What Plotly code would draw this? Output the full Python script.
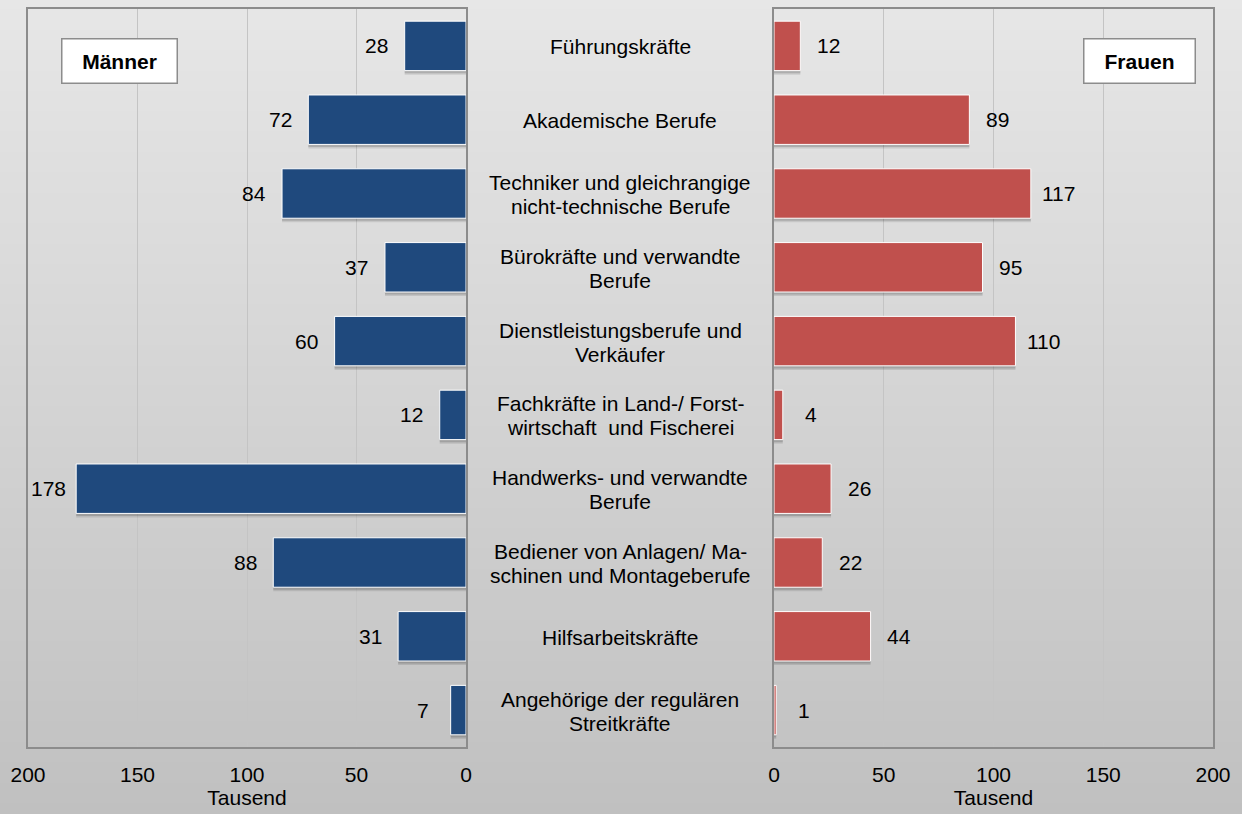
import plotly.graph_objects as go

categories = [
    "Führungskräfte",
    "Akademische Berufe",
    "Techniker und gleichrangige<br>nicht-technische Berufe",
    "Bürokräfte und verwandte<br>Berufe",
    "Dienstleistungsberufe und<br>Verkäufer",
    "Fachkräfte in Land-/ Forst-<br>wirtschaft  und Fischerei",
    "Handwerks- und verwandte<br>Berufe",
    "Bediener von Anlagen/ Ma-<br>schinen und Montageberufe",
    "Hilfsarbeitskräfte",
    "Angehörige der regulären<br>Streitkräfte",
]
maenner = [28, 72, 84, 37, 60, 12, 178, 88, 31, 7]
frauen = [12, 89, 117, 95, 110, 4, 26, 22, 44, 1]
tick_vals = [0, 50, 100, 150, 200]
axis_title = "Tausend"

W, H = 1242, 814
FONT = "Liberation Sans, Arial, sans-serif"
FS = 21
pos = list(range(len(categories)))
BW = 0.67

fig = go.Figure()
# soft drop shadows
for xs, xa, ya in ((maenner, "x", "y"), (frauen, "x2", "y2")):
    for off, alpha in ((0.055, 0.10), (0.035, 0.14)):
        fig.add_trace(go.Bar(
            y=pos, x=xs, orientation="h", xaxis=xa, yaxis=ya, width=BW,
            offset=-BW / 2 + off,
            marker=dict(color="rgba(0,0,0,%.2f)" % alpha, line=dict(width=0)),
            showlegend=False, hoverinfo="skip",
        ))
fig.add_trace(go.Bar(
    y=pos, x=maenner, orientation="h", xaxis="x", yaxis="y", width=BW, offset=-BW / 2,
    marker=dict(color="#1F497D", line=dict(color="#ffffff", width=1)),
    showlegend=False, hoverinfo="skip",
))
fig.add_trace(go.Bar(
    y=pos, x=frauen, orientation="h", xaxis="x2", yaxis="y2", width=BW, offset=-BW / 2,
    marker=dict(color="#C0504D", line=dict(color="#ffffff", width=1)),
    showlegend=False, hoverinfo="skip",
))

ann = []
for i, v in enumerate(maenner):
    ann.append(dict(x=v, y=i, xref="x", yref="y", text=str(v), showarrow=False,
                    xanchor="center", yanchor="middle", xshift=-28,
                    font=dict(size=FS, color="#000")))
for i, v in enumerate(frauen):
    ann.append(dict(x=v, y=i, xref="x2", yref="y2", text=str(v), showarrow=False,
                    xanchor="center", yanchor="middle", xshift=28,
                    font=dict(size=FS, color="#000")))
for i, c in enumerate(categories):
    lines = c.split("<br>")
    n = len(lines)
    for j, ln in enumerate(lines):
        ann.append(dict(x=620 / W, y=i, xref="paper", yref="y", text=ln, showarrow=False,
                        xanchor="center", yanchor="middle", align="center",
                        yshift=-(j - (n - 1) / 2) * 24 - 1,
                        font=dict(size=FS, color="#000")))
ann.append(dict(x=119 / W, y=1 - 61 / H, xref="paper", yref="paper", text="<b>Männer</b>",
                xanchor="center", yanchor="middle",
                showarrow=False, font=dict(size=FS, color="#000"), bgcolor="#ffffff",
                bordercolor="#8c8c8c", borderwidth=1.5, width=112, height=41))
ann.append(dict(x=1139 / W, y=1 - 61 / H, xref="paper", yref="paper", text="<b>Frauen</b>",
                xanchor="center", yanchor="middle",
                showarrow=False, font=dict(size=FS, color="#000"), bgcolor="#ffffff",
                bordercolor="#8c8c8c", borderwidth=1.5, width=108, height=41))

# background gradient bands
shapes = []
N = 80
top = (231, 231, 231)
bot = (192, 192, 192)
for k in range(N):
    t = (k + 0.5) / N
    c = tuple(int(round(top[j] + (bot[j] - top[j]) * t)) for j in range(3))
    shapes.append(dict(type="rect", xref="paper", yref="paper", x0=0, x1=1,
                       y0=1 - (k + 1) / N, y1=1 - k / N + 0.001,
                       fillcolor="rgb(%d,%d,%d)" % c, line=dict(width=0), layer="below"))

ydom = [1 - 747 / H, 1 - 9 / H]
common_x = dict(tickvals=tick_vals, showgrid=True, gridcolor="#c4c4c4", gridwidth=1,
                showline=True, linecolor="#8c8c8c", linewidth=2, mirror=True,
                zeroline=False, ticks="", automargin=False, ticklabelstandoff=8,
                tickfont=dict(size=FS, color="#000"),
                title=dict(text=axis_title, font=dict(size=FS, color="#000"), standoff=4))
common_y = dict(domain=ydom, range=[9.5, -0.5], showticklabels=False, showgrid=False,
                zeroline=False, showline=True, linecolor="#8c8c8c", linewidth=2, mirror=True,
                ticks="", automargin=False)

fig.update_layout(
    template="none",
    width=W, height=H, margin=dict(l=0, r=0, t=0, b=0, pad=0, autoexpand=False),
    paper_bgcolor="#d6d6d6", plot_bgcolor="#ffffff",
    font=dict(family=FONT, size=FS, color="#000"),
    xaxis=dict(domain=[28 / W, 466 / W], range=[200, 0], anchor="y", **common_x),
    xaxis2=dict(domain=[774 / W, 1213 / W], range=[0, 200], anchor="y2", **common_x),
    yaxis=dict(anchor="x", **common_y),
    yaxis2=dict(anchor="x2", **common_y),
    annotations=ann, shapes=shapes, barmode="overlay",
)

fig.write_html("out.html", config={"displayModeBar": False},
               post_script="document.body.style.margin='0';document.body.style.overflow='hidden';")
